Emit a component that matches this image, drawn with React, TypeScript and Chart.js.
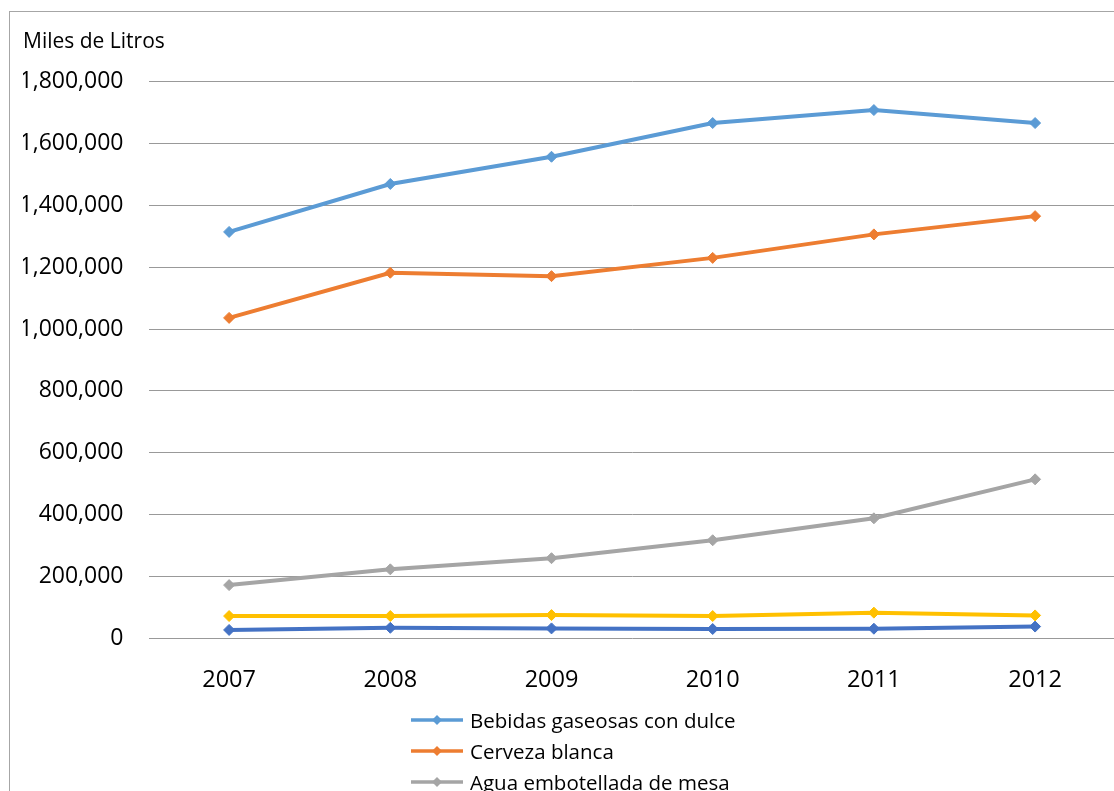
import React, { useEffect, useRef } from "react";
import { Chart, registerables } from "chart.js";

Chart.register(...registerables);

// ---- Data ----
const years = ["2007", "2008", "2009", "2010", "2011", "2012"];
const bebidasGaseosas = [1314000, 1469000, 1557000, 1666000, 1708000, 1666000];
const cervezaBlanca = [1036000, 1182000, 1171000, 1230000, 1306000, 1365000];
const aguaEmbotellada = [172000, 223000, 259000, 317000, 388000, 514000];
const cervezaOscura = [72000, 72000, 75000, 72000, 83000, 74000];
const aguaMineral = [27000, 34000, 32000, 30000, 31000, 38000];

const seriesNames = [
  "Bebidas gaseosas con dulce",
  "Cerveza blanca",
  "Agua embotellada de mesa",
  "Cerveza oscura",
  "Agua mineral",
];
const seriesValues = [bebidasGaseosas, cervezaBlanca, aguaEmbotellada, cervezaOscura, aguaMineral];
const seriesColors = ["#5b9bd5", "#ed7d31", "#a5a5a5", "#ffc000", "#4472c4"];

const yAxisTitle = "Miles de Litros";
const yMin = 0;
const yMax = 1800000;
const yStep = 200000;

const FONT = "'Open Sans', 'Noto Sans', sans-serif";

function LegendMarker({ color }: { color: string }) {
  return (
    <svg width="52" height="14" style={{ display: "block" }}>
      <line x1="0" y1="7" x2="52" y2="7" stroke={color} strokeWidth="3.5" />
      <polygon points="26,2 31,7 26,12 21,7" fill={color} />
    </svg>
  );
}

export default function App() {
  const canvasRef = useRef<HTMLCanvasElement | null>(null);

  useEffect(() => {
    if (!canvasRef.current) return;
    const chart = new Chart(canvasRef.current, {
      type: "line",
      data: {
        labels: years,
        datasets: seriesNames.map((name, i) => ({
          label: name,
          data: seriesValues[i],
          borderColor: seriesColors[i],
          backgroundColor: seriesColors[i],
          borderWidth: 4,
          pointStyle: "rectRot",
          pointRadius: 5.5,
          pointBorderWidth: 1,
          pointBackgroundColor: seriesColors[i],
          pointBorderColor: seriesColors[i],
          tension: 0,
          fill: false,
        })),
      },
      options: {
        responsive: false,
        animation: false,
        devicePixelRatio: 1,
        layout: { padding: { left: 23, right: 12.3, top: 0, bottom: 0 } },
        plugins: {
          legend: { display: false },
          tooltip: { enabled: false },
          title: {
            display: true,
            text: yAxisTitle,
            align: "start",
            color: "#000",
            font: { family: FONT, size: 21, weight: "normal" },
            padding: { top: 29.4, bottom: 27 },
          },
        },
        scales: {
          x: {
            type: "category",
            offset: true,
            grid: { display: false },
            border: { display: false },
            ticks: {
              color: "#000",
              font: { family: FONT, size: 23.5 },
              padding: 20,
              maxRotation: 0,
            },
            afterFit: (scale: any) => {
              scale.height = 73.7;
            },
          },
          y: {
            min: yMin,
            max: yMax,
            grid: { color: "#999999", lineWidth: 1, drawTicks: false },
            border: { display: false },
            ticks: {
              stepSize: yStep,
              color: "#000",
              font: { family: FONT, size: 23 },
              padding: 25,
              callback: (v: any) => Number(v).toLocaleString("en-US"),
            },
            afterFit: (scale: any) => {
              scale.width = 125.5;
            },
          },
        },
      },
    });
    return () => chart.destroy();
  }, []);

  return (
    <div
      style={{
        position: "fixed",
        left: 0,
        top: 0,
        width: 1114,
        height: 791,
        overflow: "hidden",
        background: "#fff",
      }}
    >
      <div
        style={{
          position: "absolute",
          left: 9,
          top: 11,
          width: 1140,
          height: 900,
          border: "1px solid #a6a6a6",
          boxSizing: "border-box",
        }}
      />
      <canvas
        ref={canvasRef}
        width={1128}
        height={712}
        style={{ position: "absolute", left: 0, top: 0, width: 1128, height: 712 }}
      />
      <div
        style={{
          position: "absolute",
          left: 411,
          top: 704.5,
          fontFamily: FONT,
          fontSize: 20.5,
          color: "#000",
        }}
      >
        {seriesNames.map((name, i) => (
          <div
            key={name}
            style={{ display: "flex", alignItems: "center", height: 31, whiteSpace: "nowrap" }}
          >
            <LegendMarker color={seriesColors[i]} />
            <span style={{ marginLeft: 7 }}>{name}</span>
          </div>
        ))}
      </div>
    </div>
  );
}
